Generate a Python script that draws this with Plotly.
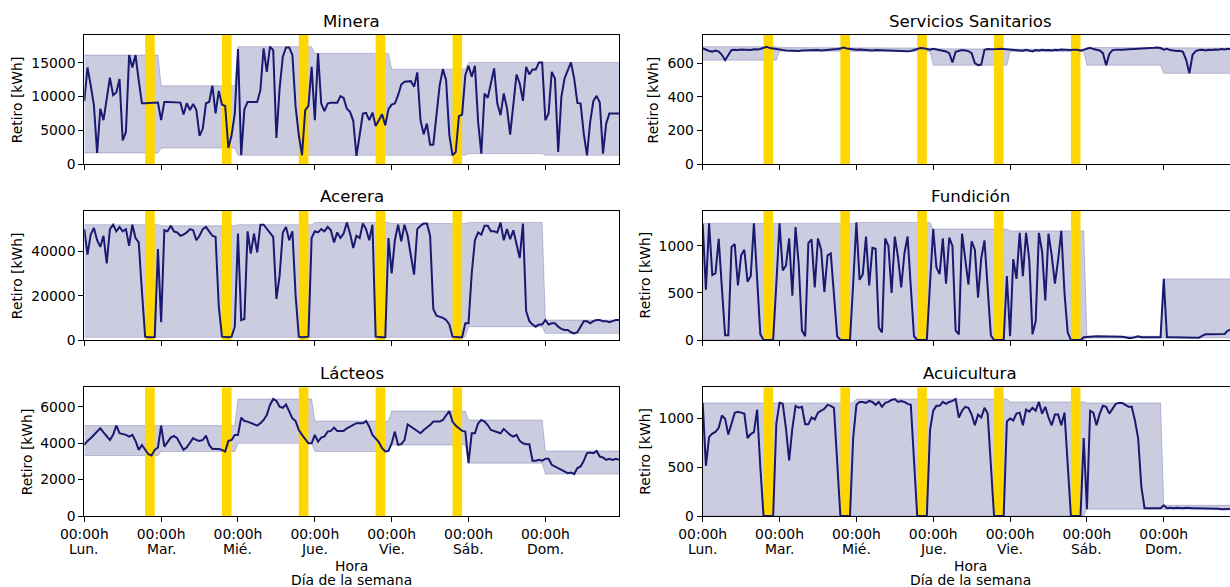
import numpy as np
import plotly.graph_objects as go

# ---------------------------------------------------------------- data
HOURS = list(range(168))
DAY_TICKS = [0, 24, 48, 72, 96, 120, 144]
DAY_NAMES = ["Lun.", "Mar.", "Mié.", "Jue.", "Vie.", "Sáb.", "Dom."]
TICK_TIME = "00:00h"
PEAK_DAYS = [0, 1, 2, 3, 4]          # Monday .. Friday
PEAK_START, PEAK_END = 19, 22        # peak block, hours of the day

minera = [
    9300, 14300, 11700, 8700, 1630, 8200, 6500, 10000, 12800, 10200, 10600, 12600,
    3500, 4750, 16140, 14300, 16140, 12400, 9000, 9000, 9000, 9000, 9000, 9100,
    6500, 9200, 9200, 9200, 9200, 9150, 9100, 7330, 9000, 8000, 8900, 8000,
    4160, 5250, 9000, 9200, 11600, 7500, 10840, 8800, 8600, 2370, 4260, 7480,
    17030, 1290, 8100, 9200, 9200, 9200, 9200, 10940, 17130, 13660, 17380, 16880,
    3860, 11190, 15900, 17280, 17280, 16140, 8460, 4260, 1290, 7970, 8600, 14400,
    6490, 16390, 8960, 7820, 8960, 9060, 9060, 9060, 10050, 9800, 8200, 7720,
    6400, 1190, 4260, 7480, 7580, 6490, 7620, 5640, 6490, 7380, 5740, 8120,
    8800, 8960, 10200, 11780, 12180, 12280, 12280, 11440, 13570, 6490, 4410, 5990,
    2870, 2870, 7720, 11690, 14060, 12430, 4360, 1290, 1780, 7080, 7330, 13170,
    14550, 12920, 14550, 6240, 1540, 10440, 9800, 12080, 14160, 8960, 7230, 10440,
    8320, 4360, 8710, 13270, 11930, 9360, 14410, 13270, 14010, 14010, 15050, 15050,
    6490, 7480, 13660, 12680, 1780, 9950, 12680, 13910, 15050, 12680, 9060, 8960,
    4510, 1290, 6240, 9360, 10100, 9110, 1540, 5990, 7480, 7480, 7480, 7480,
]

servicios = [
    689, 679, 673, 669, 675, 669, 650, 618, 650, 679, 680, 678,
    682, 680, 682, 678, 683, 681, 685, 690, 698, 690, 686, 682,
    680, 678, 676, 674, 676, 674, 672, 675, 676, 678, 676, 677,
    678, 676, 677, 678, 680, 682, 684, 688, 693, 688, 684, 682,
    680, 682, 680, 678, 677, 676, 678, 677, 676, 675, 674, 673,
    672, 671, 670, 670, 671, 673, 680, 686, 690, 689, 685, 680,
    686, 682, 678, 675, 670, 660, 604, 668, 675, 678, 676, 672,
    660, 600, 588, 592, 680, 684, 683, 682, 684, 686, 684, 682,
    680, 678, 676, 672, 674, 680, 676, 670, 678, 676, 680, 677,
    679, 676, 680, 678, 682, 680, 676, 678, 680, 680, 675, 680,
    683, 692, 684, 680, 676, 660, 588, 655, 678, 680, 679, 680,
    682, 683, 684, 685, 686, 684, 685, 688, 690, 692, 694, 690,
    680, 686, 678, 674, 672, 674, 668, 620, 540, 650, 672, 678,
    680, 676, 680, 678, 682, 680, 684, 682, 686, 684, 688, 690,
]

acerera = [
    50000, 38500, 47500, 50500, 45000, 42000, 47000, 34500, 50000, 52000, 49000, 51000,
    49000, 50000, 42500, 52000, 46000, 44000, 22000, 1500, 1200, 1200, 1300, 41000,
    8000, 49500, 49000, 51500, 49000, 48500, 47000, 47500, 48500, 50000, 49500, 45000,
    47000, 50000, 51000, 49000, 47000, 46500, 15000, 1500, 1200, 1200, 1500, 6000,
    48000, 9000, 9500, 49000, 39000, 48000, 39500, 52000, 52000, 50000, 48000, 46500,
    18500, 29000, 48500, 51000, 45000, 49000, 20000, 1500, 1200, 1200, 1500, 46000,
    49000, 48500, 50000, 49000, 51000, 49500, 44000, 48500, 46000, 48000, 53000, 48000,
    41500, 47000, 46000, 52500, 50000, 45000, 52000, 1500, 1200, 1200, 1200, 46000,
    30000, 45000, 52000, 44500, 52000, 47000, 38000, 29500, 50000, 51500, 52500, 52500,
    47000, 14000, 11000, 10500, 10000, 9000, 7000, 1500, 1200, 1200, 1200, 7500,
    7500, 30000, 45000, 48500, 47500, 51500, 51500, 49000, 49000, 48500, 53000, 45000,
    50000, 45500, 49500, 43000, 37000, 52500, 13000, 8500, 7000, 6000, 7000, 7000,
    9000, 7000, 7500, 7500, 6000, 5000, 4500, 4500, 3500, 3000, 3500, 6000,
    8500, 8500, 7500, 8500, 9000, 9000, 8500, 8500, 8000, 8500, 9000, 9000,
]

fundicion = [
    1235, 535, 1240, 690, 710, 1077, 550, 50, 50, 990, 1020, 580,
    900, 960, 620, 680, 1240, 620, 60, 0, 0, 0, 0, 600,
    1240, 740, 790, 1080, 470, 1200, 800, 100, 40, 1030, 1070, 560,
    1080, 960, 510, 900, 920, 480, 40, 0, 0, 0, 0, 600,
    1250, 640, 700, 1100, 580, 980, 970, 130, 80, 1080, 1000, 500,
    1100, 880, 560, 920, 1100, 560, 40, 0, 0, 0, 0, 600,
    1180, 770, 700, 1080, 600, 1090, 1000, 100, 60, 1130, 870, 590,
    1050, 960, 450, 870, 1060, 550, 50, 0, 0, 0, 0, 680,
    40, 860, 650, 1140, 680, 1140, 850, 60, 200, 1140, 940, 420,
    1130, 900, 600, 850, 1160, 500, 80, 0, 0, 0, 0, 30,
    35, 38, 38, 40, 40, 40, 40, 40, 38, 38, 35, 35,
    30, 20, 20, 30, 40, 30, 30, 30, 30, 30, 30, 30,
    650, 30, 30, 30, 30, 30, 30, 30, 30, 30, 28, 25,
    45, 60, 62, 62, 63, 63, 64, 65, 100, 110, 110, 115,
]

lacteos = [
    3900, 4120, 4270, 4450, 4630, 4810, 4590, 4390, 4170, 4450, 4960, 4540,
    4500, 4450, 4360, 4450, 4120, 3630, 3900, 3630, 3390, 3320, 3630, 3760,
    4960, 3810, 4050, 4300, 4390, 4270, 3940, 3630, 3770, 4050, 4270, 4170,
    4120, 4170, 4410, 3900, 3680, 3680, 3680, 3630, 3540, 4120, 4170, 4450,
    4450, 5400, 5210, 5180, 5120, 5030, 4960, 5090, 5270, 5540, 6090, 6420,
    6310, 6000, 5940, 6120, 5720, 5360, 5210, 4720, 4450, 4230, 3990, 3990,
    4450, 4080, 4300, 4360, 4630, 4670, 4850, 4670, 4670, 4670, 4810, 4900,
    4960, 5090, 5090, 5090, 5210, 4900, 4450, 4230, 4050, 3720, 3540, 3570,
    3990, 4630, 3900, 3940, 4170, 5030, 4900, 4810, 4630, 4540, 4720, 4850,
    4990, 5180, 5180, 5180, 5270, 5540, 5760, 5180, 4960, 4810, 4670, 4630,
    2900, 4540, 4540, 5090, 5270, 5180, 4990, 4720, 4670, 4630, 4540, 4780,
    4590, 4450, 4360, 4450, 4120, 3990, 3940, 3940, 3030, 3030, 3080, 3030,
    3140, 3140, 2810, 2720, 2660, 2570, 2480, 2350, 2390, 2300, 2630, 2720,
    3030, 3450, 3480, 3450, 3570, 3260, 3210, 3080, 3140, 3080, 3140, 3080,
]

acuicultura = [
    1160, 515, 811, 846, 863, 904, 1031, 997, 835, 955, 1058, 1068,
    1058, 1050, 800, 840, 860, 1090, 500, 0, 0, 0, 0, 950,
    1160, 1150, 900, 570, 900, 1130, 1110, 1120, 940, 940, 1010, 990,
    1060, 1080, 1100, 1140, 1130, 1110, 550, 0, 0, 0, 0, 800,
    1140, 1170, 1170, 1160, 1180, 1170, 1140, 1170, 1120, 1160, 1170, 1190,
    1200, 1170, 1180, 1170, 1150, 1140, 500, 0, 0, 0, 0, 880,
    1080, 1130, 1130, 1170, 1150, 1170, 1180, 1200, 1010, 1080, 1120, 1110,
    1040, 930, 1040, 1010, 1110, 1050, 500, 0, 0, 0, 0, 970,
    1000, 980, 1050, 1060, 930, 1090, 1070, 1110, 1080, 1170, 1050, 1120,
    1010, 930, 1040, 1040, 930, 1060, 500, 0, 0, 0, 0, 800,
    70, 1080, 1060, 930, 1050, 1130, 1120, 1050, 1100, 1150, 1160, 1160,
    1140, 1120, 1120, 980, 800, 300, 80, 80, 80, 80, 80, 80,
    110, 80, 85, 80, 85, 80, 80, 85, 80, 80, 80, 80,
    80, 80, 80, 75, 80, 75, 70, 70, 70, 70, 72, 75,
]

# (title, series, y tick step) in grid order: row by row, left then right
PANELS = [
    ("Minera", minera, 5000),
    ("Servicios Sanitarios", servicios, 200),
    ("Acerera", acerera, 20000),
    ("Fundición", fundicion, 500),
    ("Lácteos", lacteos, 2000),
    ("Acuicultura", acuicultura, 500),
]

# ---------------------------------------------------------------- style
W, H = 1230, 587
FONT = "DejaVu Sans"
TICK_SIZE = 13.9
TITLE_SIZE = 16.6
LINE_COLOR = "#191970"
BAND_FILL = "rgba(25,25,112,0.22)"
BAND_EDGE = "rgba(25,25,112,0.22)"
PEAK_COLOR = "#FFD700"
INK = "#000000"

# plot-area boxes in pixels (left, right) and (top, bottom)
COLS = [(84.3, 619.0), (702.7, 1230.0)]
FULL_RIGHT = 619.0 - 84.3            # width of a full panel
ROWS = [(35.0, 164.0), (210.7, 340.0), (387.3, 516.0)]
X_END = 167

# vertical centres (px) of the text lines under the bottom axes
DAY_NAME_Y = 549.0
XTITLE_Y = (566.0, 580.3)


def fx(p):
    return p / W


def fy(p):
    return 1 - p / H


fig = go.Figure()
layout = {}
annotations = []
hours = np.array(HOURS)

for i, (title, series, step) in enumerate(PANELS):
    r, c = divmod(i, 2)
    n = "" if i == 0 else str(i + 1)
    xa, ya = "x" + n, "y" + n
    vals = np.array(series, dtype=float)
    ymax = 1.1 * vals.max()

    # daily min/max envelope
    day = hours // 24
    lo = np.array([vals[day == d].min() for d in day])
    hi = np.array([vals[day == d].max() for d in day])

    fig.add_trace(go.Scatter(x=HOURS, y=lo, mode="lines",
                             line=dict(color=BAND_EDGE, width=1),
                             xaxis=xa, yaxis=ya, hoverinfo="skip", showlegend=False))
    fig.add_trace(go.Scatter(x=HOURS, y=hi, mode="lines", fill="tonexty",
                             fillcolor=BAND_FILL,
                             line=dict(color=BAND_EDGE, width=1),
                             xaxis=xa, yaxis=ya, hoverinfo="skip", showlegend=False))

    # peak-hour blocks, Monday to Friday
    bx, by = [], []
    for d in PEAK_DAYS:
        s, e = d * 24 + PEAK_START, d * 24 + PEAK_END
        bx += [s, s, e, e, s, None]
        by += [0, ymax, ymax, 0, 0, None]
    fig.add_trace(go.Scatter(x=bx, y=by, mode="lines", fill="toself",
                             fillcolor=PEAK_COLOR, line=dict(width=0, color=PEAK_COLOR),
                             xaxis=xa, yaxis=ya, hoverinfo="skip", showlegend=False))

    fig.add_trace(go.Scatter(x=HOURS, y=vals, mode="lines",
                             line=dict(color=LINE_COLOR, width=2),
                             xaxis=xa, yaxis=ya, showlegend=False))

    left, right = COLS[c]
    top, bottom = ROWS[r]
    x_hi = X_END * (right - left) / FULL_RIGHT

    layout["xaxis" + n] = dict(
        domain=[fx(left), fx(right)], anchor=ya, range=[0, x_hi],
        tickmode="array", tickvals=DAY_TICKS,
        ticktext=[TICK_TIME] * len(DAY_TICKS),
        showticklabels=(r == 2),
        ticks="outside", ticklen=5, tickwidth=1, tickcolor=INK,
        showline=True, linecolor=INK, linewidth=1, mirror=True,
        showgrid=False, zeroline=False, automargin=False,
        tickfont=dict(family=FONT, size=TICK_SIZE, color=INK),
    )
    layout["yaxis" + n] = dict(
        domain=[fy(bottom), fy(top)], anchor=xa, range=[0, ymax],
        tickmode="linear", tick0=0, dtick=step, tickformat="d",
        ticks="outside", ticklen=5, tickwidth=1, tickcolor=INK,
        showline=True, linecolor=INK, linewidth=1, mirror=(c == 0),
        showgrid=False, zeroline=False, automargin=False,
        tickfont=dict(family=FONT, size=TICK_SIZE, color=INK),
    )

    # panel title, centred on the full panel width
    annotations.append(dict(
        text=title, xref="paper", yref="paper",
        x=fx(left + FULL_RIGHT / 2), y=fy(top - 14), xanchor="center", yanchor="middle",
        showarrow=False, font=dict(family=FONT, size=TITLE_SIZE, color=INK)))

    # y axis label, placed left of the widest tick label
    top_tick = int(ymax // step) * step
    label_w = len(str(top_tick)) * 0.636 * TICK_SIZE
    annotations.append(dict(
        text="Retiro [kWh]", xref="paper", yref="paper", textangle=-90,
        x=fx(left - 9.7 - label_w - 12.6), y=fy((top + bottom) / 2),
        xanchor="center", yanchor="middle", showarrow=False,
        font=dict(family=FONT, size=TICK_SIZE, color=INK)))

    if r == 2:
        # weekday names under the time ticks
        for t, name in zip(DAY_TICKS, DAY_NAMES):
            annotations.append(dict(
                text=name, xref=xa, yref="paper", x=t, y=fy(DAY_NAME_Y),
                xanchor="center", yanchor="middle", showarrow=False,
                font=dict(family=FONT, size=TICK_SIZE, color=INK)))
        for txt, yy in zip(("Hora", "Día de la semana"), XTITLE_Y):
            annotations.append(dict(
                text=txt, xref="paper", yref="paper",
                x=fx(left + FULL_RIGHT / 2), y=fy(yy),
                xanchor="center", yanchor="middle", showarrow=False,
                font=dict(family=FONT, size=TICK_SIZE, color=INK)))

fig.update_layout(
    width=W, height=H, margin=dict(l=0, r=0, t=0, b=0),
    paper_bgcolor="white", plot_bgcolor="white",
    font=dict(family=FONT, size=TICK_SIZE, color=INK),
    annotations=annotations, showlegend=False,
    **layout,
)

fig.write_html("out.html")
